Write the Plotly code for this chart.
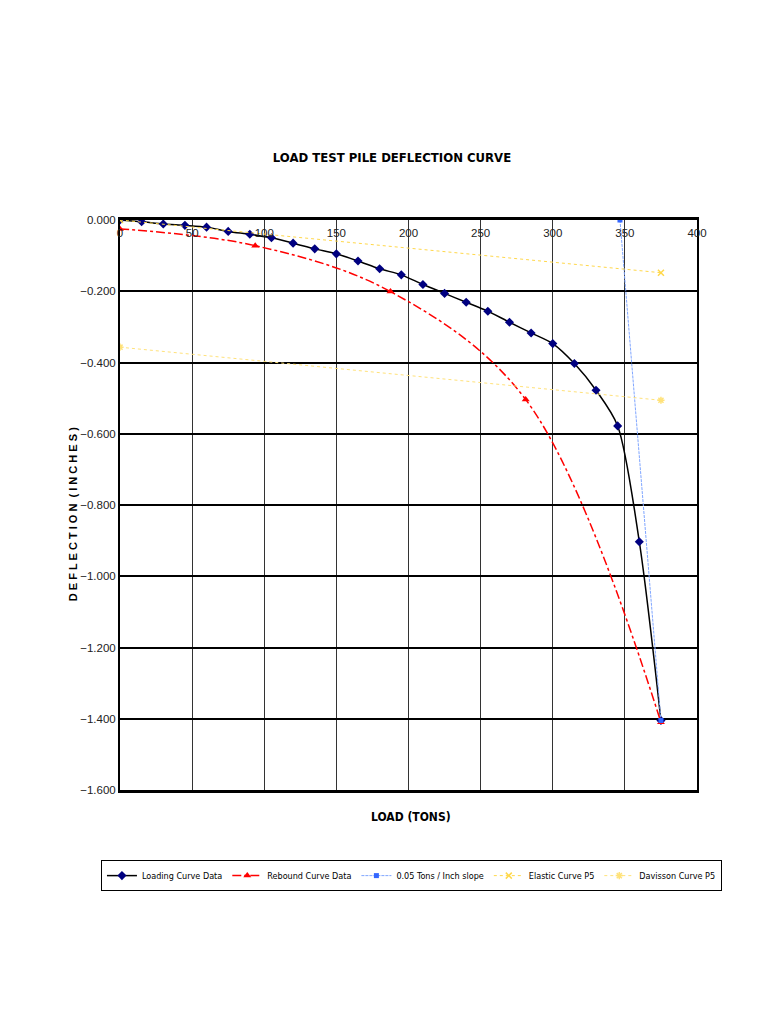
import plotly.graph_objects as go

# loading curve (15 ton increments)
load_x = [0, 15, 30, 45, 60, 75, 90, 105, 120, 135, 150, 165, 180, 195,
          210, 225, 240, 255, 270, 285, 300, 315, 330, 345, 360, 375]
load_y = [0.000, -0.005, -0.011, -0.015, -0.020, -0.032, -0.040, -0.050,
          -0.065, -0.081, -0.095, -0.115, -0.137, -0.154, -0.181, -0.206,
          -0.231, -0.256, -0.287, -0.317, -0.347, -0.403, -0.478, -0.578,
          -0.903, -1.405]

# rebound curve
rebound_x = [0, 93.75, 187.5, 281.25, 375]
rebound_y = [-0.025, -0.072, -0.201, -0.504, -1.410]

# 0.05 tons / inch slope
slope_x = [346.6, 375]
slope_y = [0.000, -1.405]

# elastic and davisson lines
elastic_x = [0, 375]
elastic_y = [0.000, -0.148]
davisson_x = [0, 375]
davisson_y = [-0.357, -0.506]

sans = "Liberation Sans, Arial"
narrow = "DejaVu Sans Condensed, Liberation Sans, Arial"

fig = go.Figure()

fig.add_trace(go.Scatter(x=load_x, y=load_y, name="Loading Curve Data",
                         mode="lines+markers",
                         line=dict(color="black", width=1.5, shape="spline", smoothing=0.8),
                         marker=dict(symbol="diamond", size=7, color="#000080")))

fig.add_trace(go.Scatter(x=rebound_x, y=rebound_y, name="Rebound Curve Data",
                         mode="lines+markers",
                         line=dict(color="#FF0000", width=1.5, dash="dashdot",
                                   shape="spline", smoothing=1.0),
                         marker=dict(symbol="triangle-up", size=7, color="#FF0000")))

fig.add_trace(go.Scatter(x=slope_x, y=slope_y, name="0.05 Tons / Inch slope",
                         mode="lines+markers",
                         line=dict(color="#7FA6FF", width=1, dash="3px,1px"),
                         marker=dict(symbol="square", size=5, color="#3366FF")))

fig.add_trace(go.Scatter(x=elastic_x, y=elastic_y, name="Elastic Curve P5",
                         mode="lines+markers",
                         line=dict(color="#FFD84A", width=1, dash="dot"),
                         marker=dict(symbol="x-thin-open", size=6,
                                     line=dict(color="#F5C400", width=1.5))))

fig.add_trace(go.Scatter(x=davisson_x, y=davisson_y, name="Davisson Curve P5",
                         mode="lines+markers",
                         line=dict(color="#FFE27A", width=1, dash="dot"),
                         marker=dict(symbol="asterisk-open", size=6,
                                     line=dict(color="#F5D000", width=1.5))))

fig.update_layout(
    width=768, height=1024,
    paper_bgcolor="white", plot_bgcolor="white",
    margin=dict(l=112, r=79, t=212, b=242, autoexpand=False),
    title=dict(text="<b>LOAD TEST PILE DEFLECTION CURVE</b>", x=0.5, xanchor="center",
               y=1 - 149 / 1024, yanchor="middle",
               font=dict(family=narrow, size=13, color="black")),
    font=dict(family=sans, size=11, color="#222222"),
    showlegend=True,
    legend=dict(orientation="h", x=-0.033, xanchor="left", y=-0.123, yanchor="top",
                bordercolor="black", borderwidth=1, bgcolor="white",
                font=dict(family=narrow, size=9, color="black"),
                itemwidth=30, tracegroupgap=0),
    xaxis=dict(range=[0, 400], dtick=50, side="top",
               ticklabelposition="outside", ticklabelstandoff=-24,
               showgrid=True, gridcolor="#333333", gridwidth=1,
               showline=True, linecolor="black", linewidth=2.5, mirror=True,
               zeroline=False, ticks="", fixedrange=True, automargin=False,
               tickfont=dict(family=sans, size=11.5, color="#222222"),
               title=None),
    yaxis=dict(range=[-1.6, 0], dtick=0.2, tickformat=".3f",
               showgrid=True, gridcolor="black", gridwidth=1.5,
               showline=True, linecolor="black", linewidth=2, mirror=True,
               zeroline=False, ticks="", fixedrange=True, automargin=False,
               tickfont=dict(family=sans, size=11.5, color="#222222"),
               title=dict(text="<b>D E F L E C T I O N  ( I N C H E S )</b>"
                               "&nbsp;&nbsp;&nbsp;&nbsp;&nbsp;&nbsp;",
                          font=dict(family=sans, size=11, color="black"),
                          standoff=0)),
    annotations=[dict(text="<b>LOAD (TONS)</b>", xref="paper", yref="paper",
                      x=0.505, y=-0.047, xanchor="center", yanchor="middle",
                      showarrow=False,
                      font=dict(family=narrow, size=12, color="black"))],
)

fig.write_html("out.html")
